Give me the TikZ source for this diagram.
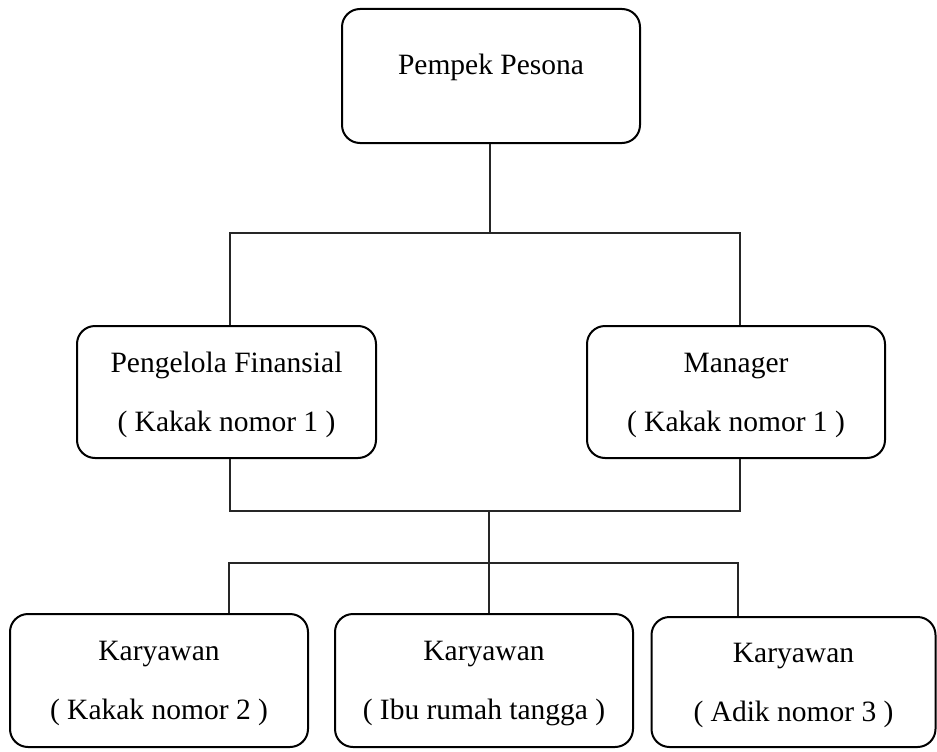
\documentclass[tikz,border=0pt]{standalone}
\usepackage{fontspec}
\setmainfont{Liberation Serif}
\begin{document}
\begin{tikzpicture}[x=1pt,y=-1pt,
  box/.style={draw=black, line width=2pt, rounded corners=18pt, align=center,
    inner sep=0pt, font={\fontsize{29.5}{59}\selectfont}},
  twoline/.style={box, text depth=0pt},
  conn/.style={draw=black!85, line width=1.1pt}]
\useasboundingbox (0,0) rectangle (937,752);
% boxes
\node[box, minimum width=298pt, minimum height=134pt, text depth=23pt] (top) at (491,76) {Pempek Pesona};
\node[twoline, minimum width=299pt, minimum height=132pt] (fin) at (226.5,392) {Pengelola Finansial\\( Kakak nomor 1 )};
\node[twoline, minimum width=298pt, minimum height=132pt] (man) at (736,392) {Manager\\( Kakak nomor 1 )};
\node[twoline, minimum width=298pt, minimum height=133pt] (k2) at (159,680.5) {Karyawan\\( Kakak nomor 2 )};
\node[twoline, minimum width=298pt, minimum height=133pt] (ibu) at (484,680.5) {Karyawan\\( Ibu rumah tangga )};
\node[twoline, minimum width=284pt, minimum height=130pt] (adik) at (793.5,682) {Karyawan\\( Adik nomor 3 )};
% junction points
\coordinate (a0) at (490,233);
\coordinate (aL) at (230,233);
\coordinate (aR) at (740,233);
\coordinate (b0) at (489,511);
\coordinate (bL) at (230,511);
\coordinate (bR) at (740,511);
\coordinate (c0) at (489,563);
\coordinate (cL) at (229,563);
\coordinate (cR) at (738,563);
% connectors
\draw[conn] (top.south -| a0) -- (a0);
\draw[conn] (fin.north -| aL) -- (aL) -- (aR) -- (man.north -| aR);
\draw[conn] (fin.south -| bL) -- (bL) -- (bR) -- (man.south -| bR);
\draw[conn] (b0) -- (c0);
\draw[conn] (k2.north -| cL) -- (cL) -- (cR) -- (adik.north -| cR);
\draw[conn] (c0) -- (ibu.north -| c0);
\end{tikzpicture}
\end{document}
